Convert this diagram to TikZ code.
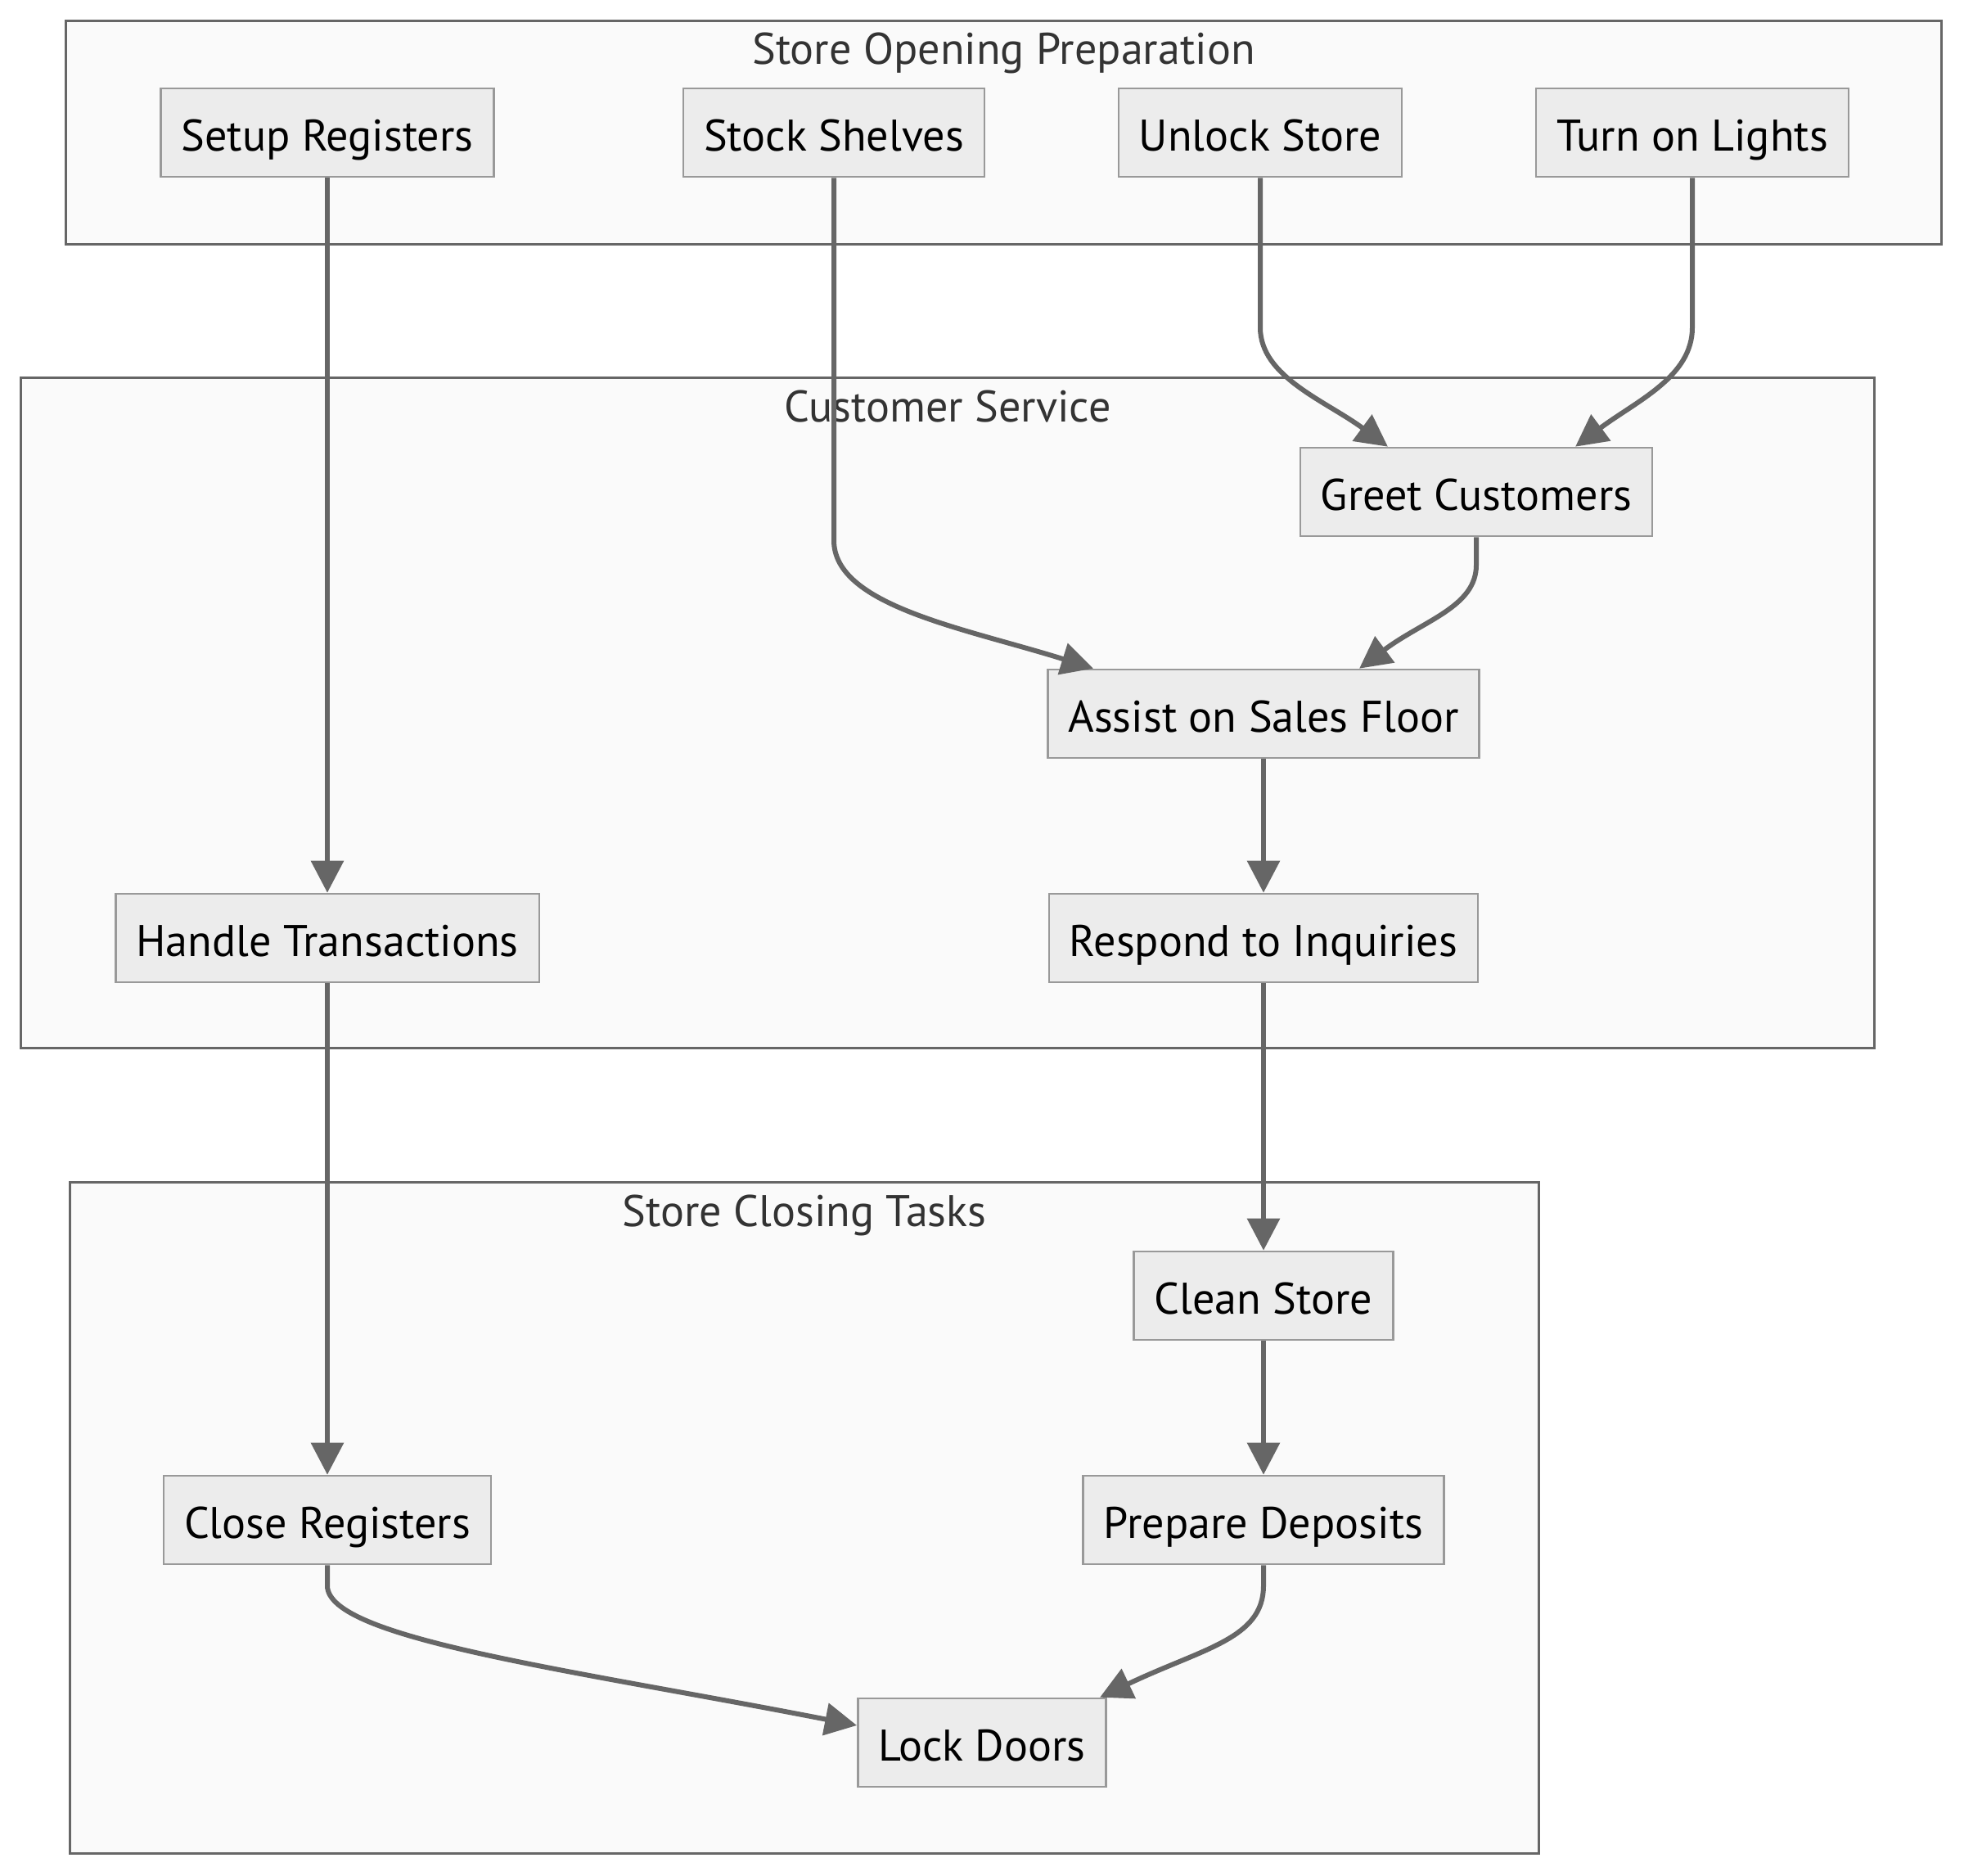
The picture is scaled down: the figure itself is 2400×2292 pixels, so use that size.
\documentclass[tikz,border=0pt]{standalone}
\usepackage{fontspec}
\setmainfont{PT Sans}
\usetikzlibrary{arrows.meta,positioning}
\definecolor{taskfill}{HTML}{ECECEC}
\definecolor{taskline}{HTML}{999999}
\definecolor{grpfill}{HTML}{FAFAFA}
\definecolor{grpline}{HTML}{666666}
\definecolor{edgegray}{HTML}{666666}
\definecolor{grptext}{HTML}{333333}
\tikzset{
  task/.style={rectangle,draw=taskline,line width=0.25mm,fill=taskfill,
              minimum height=1.08cm,inner xsep=0.25cm,text height=0.6cm,text depth=0.15cm,
              font=\fontsize{15.4}{18}\selectfont},
  group/.style={rectangle,draw=grpline,line width=0.3mm,fill=grpfill,inner sep=0pt},
  grplabel/.style={anchor=base,inner sep=0pt,text=grptext,font=\fontsize{15.4}{18}\selectfont},
  flow/.style={-{Triangle[length=3.9mm,width=3.9mm]},line width=0.6mm,draw=edgegray},
}
\begin{document}
\begin{tikzpicture}[x=0.01cm,y=-0.01cm]
  \useasboundingbox (0,0) rectangle (2400,2292);
  \fill[white] (0,0) rectangle (2400,2292);

  % subgraphs
  \node[group,minimum width=22.91cm,minimum height=2.72cm] (open) at (1226.5,162) {};
  \node[grplabel] (openlbl) at ([yshift=-0.54cm]open.north) {Store Opening Preparation};
  \node[group,minimum width=22.64cm,minimum height=8.18cm] (cust) at (1158,871) {};
  \node[grplabel] (custlbl) at ([yshift=-0.55cm]cust.north) {Customer Service};
  \node[group,minimum width=17.94cm,minimum height=8.19cm] (close) at (983,1854.5) {};
  \node[grplabel] (closelbl) at ([yshift=-0.55cm]close.north) {Store Closing Tasks};

  % tasks
  \node[task] (setup) at (400,162) {Setup Registers};
  \node[task] (stock) at (1019,162) {Stock Shelves};
  \node[task] (unlock) at (1540,162) {Unlock Store};
  \node[task] (lights) at (2068,162) {Turn on Lights};
  \node[task] (greet) at (1804,601) {Greet Customers};
  \node[task] (assist) at (1544,872) {Assist on Sales Floor};
  \node[task] (respond) at (1544,1146) {Respond to Inquiries};
  \node[task] (handle) at (400,1146) {Handle Transactions};
  \node[task] (clean) at (1544,1583) {Clean Store};
  \node[task] (deposit) at (1544,1857) {Prepare Deposits};
  \node[task] (closereg) at (400,1857) {Close Registers};
  \node[task] (lock) at (1200,2129) {Lock Doors};

  % flows
  \draw[flow] (setup) -- (handle);
  \draw[flow] (stock.south) -- ++(0,443) .. controls +(0,80) and +(-156,-49) .. ([xshift=-2.08cm]assist.north);
  \draw[flow] (unlock.south) -- ++(0,183) .. controls +(0,60) and +(-76,-56) .. ([xshift=-1.08cm]greet.north);
  \draw[flow] (lights.south) -- ++(0,183) .. controls +(0,60) and +(75,-56) .. ([xshift=1.21cm]greet.north);
  \draw[flow] (greet.south) -- ++(0,34) .. controls +(0,51) and +(79,-59) .. ([xshift=1.17cm]assist.north);
  \draw[flow] (assist) -- (respond);
  \draw[flow] (handle) -- (closereg);
  \draw[flow] (respond) -- (clean);
  \draw[flow] (clean) -- (deposit);
  \draw[flow] (closereg.south) -- ++(0,25) .. controls +(0,65) and +(-348,-68) .. ([yshift=0.21cm]lock.west);
  \draw[flow] (deposit.south) -- ++(0,25) .. controls +(0,65) and +(126,-60) .. ([xshift=1.44cm]lock.north);
\end{tikzpicture}
\end{document}
